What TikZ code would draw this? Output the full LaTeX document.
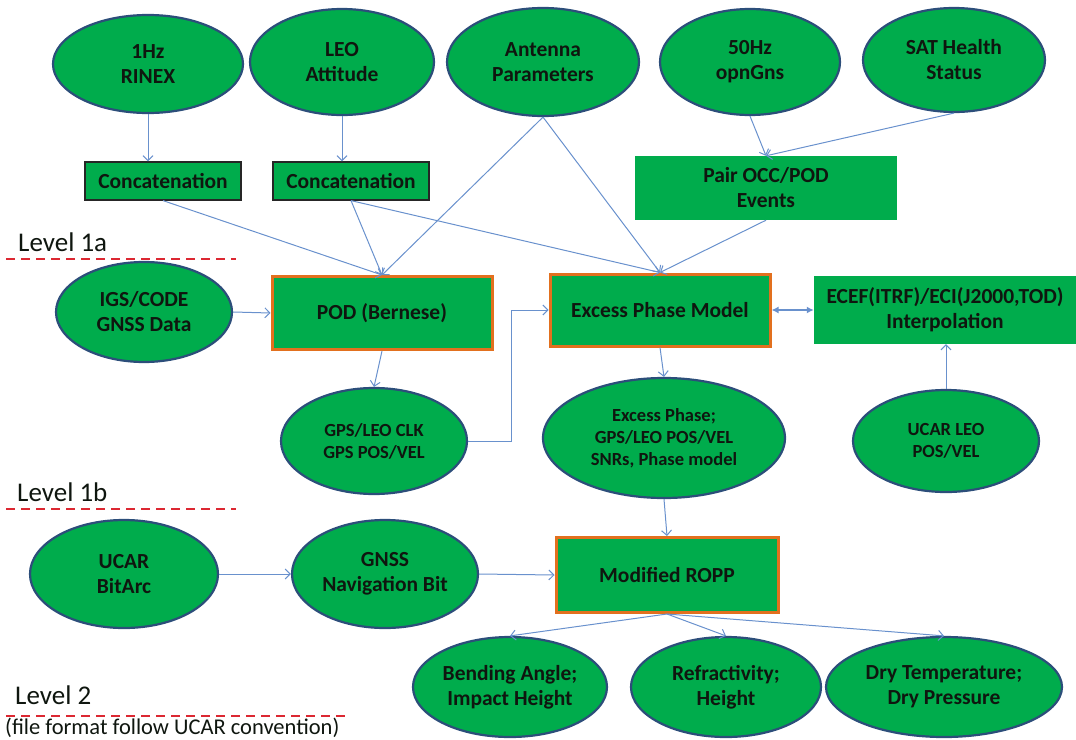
\documentclass[tikz,border=0pt]{standalone}
\usepackage{fontspec}
\setmainfont{Carlito}
\usetikzlibrary{shapes.geometric,arrows.meta}
\definecolor{fillgreen}{RGB}{0,172,76}
\definecolor{ellborder}{RGB}{44,78,122}
\definecolor{procorange}{RGB}{226,112,30}
\definecolor{arrowblue}{RGB}{105,145,205}
\definecolor{txt}{RGB}{15,22,15}
\definecolor{lvlred}{RGB}{220,40,50}
\begin{document}
\begin{tikzpicture}[x=1pt,y=-1pt,
 every node/.style={text=txt, font=\bfseries\fontsize{21.5}{25}\selectfont, align=center},
 oval/.style={ellipse, draw=ellborder, line width=2.2pt, fill=fillgreen, inner sep=0pt},
 plainbox/.style={rectangle, fill=fillgreen, draw=black!85, line width=1.2pt, inner sep=0pt},
 procbox/.style={rectangle, fill=fillgreen, draw=procorange, line width=3pt, inner sep=0pt},
 flatbox/.style={rectangle, fill=fillgreen, inner sep=0pt},
 conn/.style={draw=arrowblue, line width=1pt, -{Straight Barb[length=5pt,width=10pt]}},
 biconn/.style={draw=arrowblue, line width=1.8pt, {Latex[length=7pt,width=7pt]}-{Latex[length=7pt,width=7pt]}},
 small/.style={font=\bfseries\fontsize{18.5}{22}\selectfont},
 lvl/.style={font=\fontsize{27}{30}\selectfont, anchor=base west, inner sep=0pt},
 note/.style={font=\fontsize{22.5}{26}\selectfont, anchor=base west, inner sep=0pt},
 lvlline/.style={draw=lvlred, line width=1.6pt, dash pattern=on 9pt off 6pt}]
\useasboundingbox (0,0) rectangle (1076,739);

% top row
\node[oval, minimum width=190pt, minimum height=98pt] (rinex) at (148,64) {1Hz\\RINEX};
\node[oval, minimum width=184pt, minimum height=106pt] (att) at (342,62) {LEO\\Attitude};
\node[oval, minimum width=192pt, minimum height=108pt] (ant) at (543,62) {Antenna\\Parameters};
\node[oval, minimum width=180pt, minimum height=106pt] (hz) at (750,62) {50Hz\\opnGns};
\node[oval, minimum width=182pt, minimum height=104pt] (sat) at (954,60) {SAT Health\\Status};

% second row
\node[plainbox, minimum width=156pt, minimum height=38pt] (cat1) at (163,181) {Concatenation};
\node[plainbox, minimum width=156pt, minimum height=38pt] (cat2) at (351,181) {Concatenation};
\node[flatbox, minimum width=262pt, minimum height=64pt] (pair) at (766,188) {Pair OCC/POD\\Events};

% level 1a
\node[lvl] (l1a) at (18,251) {Level 1a};
\coordinate (l1aL) at (6,259);
\coordinate (l1aR) at (236,259);
\draw[lvlline] (l1aL) -- (l1aR);

% third row
\node[oval, minimum width=176pt, minimum height=100pt] (igs) at (144,312) {IGS/CODE\\GNSS Data};
\node[procbox, minimum width=220pt, minimum height=73pt] (pod) at (382,313) {POD (Bernese)};
\node[procbox, minimum width=220pt, minimum height=72pt] (epm) at (660,310) {Excess Phase Model};
\node[flatbox, minimum width=262pt, minimum height=68pt] (ecef) at (945,310) {ECEF(ITRF)/ECI(J2000,TOD)\\Interpolation};

% fourth row
\node[oval, small, minimum width=186pt, minimum height=106pt] (clk) at (374,441) {GPS/LEO CLK\\GPS POS/VEL};
\node[oval, small, minimum width=242pt, minimum height=120pt] (exph) at (664,438) {Excess Phase;\\GPS/LEO POS/VEL\\SNRs, Phase model};
\node[oval, small, minimum width=186pt, minimum height=102pt] (leo) at (946,441) {UCAR LEO\\POS/VEL};

% level 1b
\node[lvl] (l1b) at (17,501) {Level 1b};
\coordinate (l1bL) at (6,509);
\coordinate (l1bR) at (236,509);
\draw[lvlline] (l1bL) -- (l1bR);

% fifth row
\node[oval, minimum width=188pt, minimum height=108pt] (bitarc) at (124,574) {UCAR\\BitArc};
\node[oval, minimum width=186pt, minimum height=108pt] (gnss) at (385,574) {GNSS\\Navigation Bit};
\node[procbox, minimum width=222pt, minimum height=75pt] (ropp) at (667,575) {Modified ROPP};

% bottom row
\node[oval, minimum width=194pt, minimum height=100pt] (bend) at (510,687) {Bending Angle;\\Impact Height};
\node[oval, minimum width=190pt, minimum height=100pt] (refr) at (726,687) {Refractivity;\\Height};
\node[oval, minimum width=236pt, minimum height=100pt] (dry) at (944,687) {Dry Temperature;\\Dry Pressure};

% level 2
\node[lvl] (l2) at (15,704) {Level 2};
\coordinate (l2L) at (6,716);
\coordinate (l2R) at (346,716);
\draw[lvlline] (l2L) -- (l2R);
\node[note] (fmt) at (5,734) {(file format follow UCAR convention)};

% connectors
\draw[conn] (rinex.south) -- (rinex.south |- cat1.north);
\draw[conn] (att.south) -- (att.south |- cat2.north);
\draw[conn] (cat1.south) -- (pod.north);
\draw[conn] (cat2.south) -- (pod.north);
\draw[conn] (ant.south) -- (pod.north);
\draw[conn] (ant.south) -- (epm.north);
\draw[conn] (cat2.south) -- (epm.north);
\draw[conn] (hz.south) -- (pair.north);
\draw[conn] (sat.south) -- (pair.north);
\draw[conn] (pair.south) -- (epm.north);
\draw[conn] (igs.east) -- (pod.west);
\draw[conn] (pod.south) -- (clk.north);
\coordinate (elbow) at (511,441);
\draw[conn] (clk.east) -- (elbow) -- (elbow |- epm.west) -- (epm.west);
\draw[biconn] (epm.east) -- (ecef.west);
\draw[conn] (leo.north) -- (leo.north |- ecef.south);
\draw[conn] (epm.south) -- (exph.north);
\draw[conn] (exph.south) -- (ropp.north);
\draw[conn] (bitarc.east) -- (gnss.west);
\draw[conn] (gnss.east) -- (ropp.west);
\draw[conn] (ropp.south) -- (bend.north);
\draw[conn] (ropp.south) -- (refr.north);
\draw[conn] (ropp.south) -- (dry.north);
\end{tikzpicture}
\end{document}
